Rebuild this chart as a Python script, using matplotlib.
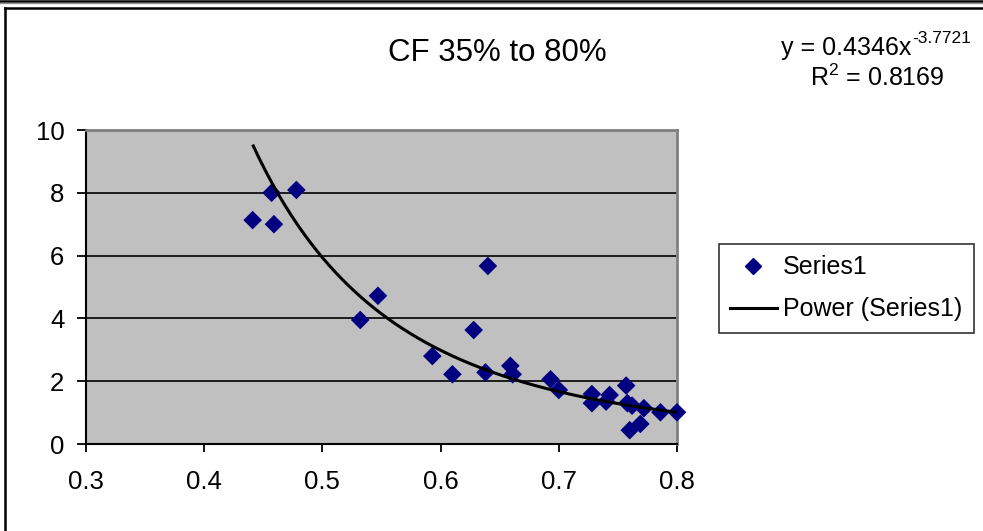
import numpy as np
import matplotlib
matplotlib.use("Agg")
import matplotlib.pyplot as plt
from matplotlib.lines import Line2D

# ---- data ----
cf = [0.441, 0.457, 0.459, 0.478, 0.532, 0.547, 0.593, 0.610, 0.628, 0.638,
      0.640, 0.659, 0.661, 0.693, 0.700, 0.728, 0.728, 0.740, 0.743, 0.757,
      0.758, 0.760, 0.762, 0.769, 0.772, 0.786, 0.800]
values = [7.13, 8.00, 7.00, 8.09, 3.95, 4.72, 2.80, 2.22, 3.63, 2.28,
          5.67, 2.49, 2.22, 2.06, 1.72, 1.59, 1.30, 1.35, 1.56, 1.86,
          1.30, 0.44, 1.22, 0.64, 1.14, 1.01, 1.01]
fit_a = 0.4346
fit_b = -3.7721
r_squared = 0.8169
title = "CF 35% to 80%"
series_label = "Series1"
trend_label = "Power (Series1)"
x_ticks = [0.3, 0.4, 0.5, 0.6, 0.7, 0.8]
x_tick_labels = ["0.3", "0.4", "0.5", "0.6", "0.7", "0.8"]
y_ticks = [0, 2, 4, 6, 8, 10]
y_tick_labels = ["0", "2", "4", "6", "8", "10"]

plt.rcParams['font.family'] = ['Liberation Sans', 'DejaVu Sans']
plt.rcParams['mathtext.fontset'] = 'custom'
plt.rcParams['mathtext.rm'] = 'Liberation Sans'
plt.rcParams['mathtext.it'] = 'Liberation Sans'

W, H = 983, 531
fig = plt.figure(figsize=(W / 100, H / 100), dpi=100)
fig.patch.set_facecolor('white')

def fx(px):
    return px / W

def fy(py):
    return 1 - py / H

# outer frame lines
fig.add_artist(Line2D([0, 1], [fy(1.2), fy(1.2)], color='black', lw=1.8))
fig.add_artist(Line2D([0, 1], [fy(3.4), fy(3.4)], color='#909090', lw=1.0))
fig.add_artist(Line2D([fx(5), 1], [fy(7.5), fy(7.5)], color='black', lw=1.8))
fig.add_artist(Line2D([fx(5), fx(5)], [0, fy(7.5)], color='black', lw=1.8))

L, R, T, B = 86, 677, 130, 444
ax = fig.add_axes([fx(L), fy(B), (R - L) / W, (B - T) / H])
ax.set_facecolor('#C0C0C0')
ax.set_xlim(0.3, 0.8)
ax.set_ylim(0, 10)

for g in y_ticks[1:-1]:
    ax.axhline(g, color='black', lw=1.2, zorder=1)

for s in ['top', 'right']:
    ax.spines[s].set_color('#808080')
    ax.spines[s].set_linewidth(2.0)
for s in ['left', 'bottom']:
    ax.spines[s].set_color('black')
    ax.spines[s].set_linewidth(1.5)

ax.set_xticks(x_ticks)
ax.set_xticklabels(x_tick_labels)
ax.set_yticks(y_ticks)
ax.set_yticklabels(y_tick_labels)
ax.tick_params(axis='x', direction='out', length=6, width=1.3, pad=13,
               labelsize=18.5, colors='black')
ax.tick_params(axis='y', direction='out', length=6.5, width=1.3, pad=9,
               labelsize=18.5, colors='black')

ax.scatter(cf, values, marker='D', s=90, color='#000080', zorder=3,
           edgecolors='none', label=series_label, clip_on=False)

xs = np.linspace(min(cf), max(cf), 200)
ax.plot(xs, fit_a * xs ** fit_b, color='black', lw=2.2, zorder=4,
        label=trend_label, solid_capstyle='butt')

fig.text(fx(497), fy(53), title, ha='center', va='center', fontsize=22.5)
eq_base = f"y = {fit_a:.4f}x"
eq_exp = f"{fit_b:.4f}"
fig.text(fx(911), fy(55), eq_base, ha='right', va='baseline', fontsize=18)
fig.text(fx(912), fy(43), eq_exp, ha='left', va='baseline', fontsize=12.5)
fig.text(fx(877), fy(78), r"R$^{2}$ = " + f"{r_squared:.4f}", ha='center',
         va='center', fontsize=18)

handles = [Line2D([], [], marker='D', color='#000080', linestyle='none',
                  markersize=8),
           Line2D([], [], color='black', lw=2.2)]
leg = fig.legend(handles, [series_label, trend_label],
                 loc='upper left', bbox_to_anchor=(fx(719), fy(244)),
                 fontsize=18, frameon=True, fancybox=False, shadow=False,
                 borderpad=0.45, handlelength=1.85, handletextpad=0.27,
                 labelspacing=0.72, borderaxespad=0)
leg.get_frame().set_edgecolor('black')
leg.get_frame().set_linewidth(1.2)

fig.savefig('out.png', dpi=100)
